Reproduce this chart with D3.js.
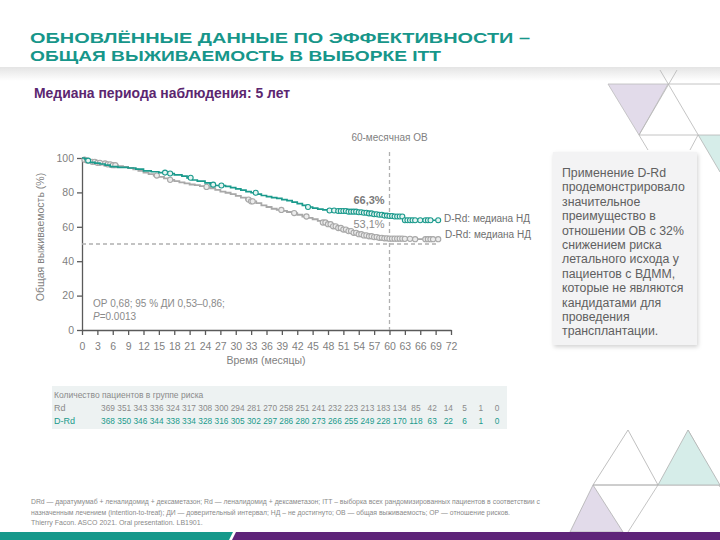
<!DOCTYPE html>
<html><head><meta charset="utf-8">
<script src="https://cdn.jsdelivr.net/npm/d3@7"></script>
<style>body{margin:0;background:#fff}svg{display:block}text{font-family:"Liberation Sans",Arial,sans-serif}</style>
</head><body><svg id="c" width="720" height="540"></svg>
<script>
// ---- data ----
const monthTicks = [0,3,6,9,12,15,18,21,24,27,30,33,36,39,42,45,48,51,54,57,60,63,66,69,72];
const yTicks = [0,20,40,60,80,100];
const drdTime = [0,0.5,1,1.5,2.5,3.5,4.5,5.5,7,9,10.5,12,13.5,15,16.5,18,19.5,20.5,21.5,22.5,24,25,26,28,29,30,31,32,33,34,35,36,37,38,39,40,41,42,43,44,45,46,47,48,50,52,54,55,56,57,58,59,60,61,62.8,69.5];
const drdSurv = [100,99.5,98.5,97.5,97,96.5,95.8,95,94.6,94.2,93.5,92.5,92,91.5,91,90.2,89.5,88.5,87.2,86.5,85.5,84.5,84,83.5,82.8,82,81.3,80.5,79.8,79,78.2,77.6,77,76.5,75.8,75.2,74.3,73.5,72.5,71.5,70.8,70.3,69.8,69.5,69.2,68.8,68.5,68.2,67.8,67.3,67,66.5,66.3,66,63.8,63.8];
const rdTime = [0,0.5,1,2,3,4,5,6,7,8,9,10,11,12,13,14,15,16,17,18,19,20,21,22,23,24,25,26,27,28,29,30,31,32,33,34,35,36,37,38,39,40,41,42,43,44,45,46,47,48,49,50,51,52,53,54,55,56,57,58,59,60,63,65,69.5];
const rdSurv = [100,99,98.5,97.8,97.2,96.8,96.3,95.8,95.3,94.8,94.2,93.4,92.5,91.5,90.6,89.8,89,88.2,87.3,86.5,85.8,85.2,84.6,84.2,83.7,83.2,82.4,81.5,80.5,79.8,79,78,77,75.8,74.8,73.8,72.5,71.5,70.5,69.8,69.3,68.6,68,67,66,65.2,64.4,63.5,62.5,61.5,60.3,59.3,58.4,57.5,56.5,55.7,55,54.5,54,53.6,53.3,53.1,53,52.8,52.8];
const drdCensor = [1.2,16.2,17.2,21.2,25.6,27.2,33.9,44.1,48.3,49.2,50,50.5,51,51.5,52,52.5,53,53.5,54,54.5,55,55.5,56,56.5,57,57.5,58,58.5,59,59.5,60,60.5,61,61.5,62,62.5,63,63.5,64,64.5,65,66,67,67.5,68,69.5];
const rdCensor = [0.5,1,2,2.5,3,3.5,4.5,5,5.5,6,6.5,14.6,17.2,24.3,32.5,33,33.3,38.9,41.4,43.8,47,47.5,48,48.5,49,49.5,50,50.5,51,51.5,52,52.5,53,53.5,54,54.5,55,55.5,56,56.5,57,57.5,58,58.5,59,59.5,60,60.5,61,61.5,62,62.5,63,64,65,67,67.5,68,68.5,69.5];
const riskMonths = monthTicks;
const riskRd = [369,351,343,336,324,317,308,300,294,281,270,258,251,241,232,223,213,183,134,85,42,14,5,1,0];
const riskDRd = [368,350,346,344,338,334,328,316,305,302,297,286,280,273,266,255,249,228,170,118,63,22,6,1,0];
const boxLines = ["Применение D-Rd","продемонстрировало","значительное","преимущество в","отношении ОВ с 32%","снижением риска","летального исхода у","пациентов с ВДММ,","которые не являются","кандидатами для","проведения","трансплантации."];
const footLines = ["DRd — даратумумаб + леналидомид + дексаметазон; Rd — леналидомид + дексаметазон; ITT – выборка всех рандомизированных пациентов в соответствии с","назначенным лечением (intention-to-treat); ДИ — доверительный интервал; НД – не достигнуто; ОВ — общая выживаемость; ОР — отношение рисков.","Thierry Facon. ASCO 2021. Oral presentation. LB1901."];

const teal = "#1a9a8c", grey = "#a8a8a8", purple = "#5b2670";
const narrow = "'Liberation Sans Narrow','Arial Narrow','Liberation Sans',sans-serif";
const svg = d3.select("#c");
const defs = svg.append("defs");
const g1 = defs.append("linearGradient").attr("id","sh").attr("x1",0).attr("x2",0).attr("y1",0).attr("y2",1);
g1.append("stop").attr("offset","0").attr("stop-color","#e4e4e4");
g1.append("stop").attr("offset","1").attr("stop-color","#ffffff");
const f = defs.append("filter").attr("id","ds").attr("x","-10%").attr("y","-10%").attr("width","130%").attr("height","130%");
f.append("feDropShadow").attr("dx",1).attr("dy",2).attr("stdDeviation",2).attr("flood-color","#000").attr("flood-opacity",0.18);

// header shadow
svg.append("rect").attr("x",0).attr("y",67).attr("width",720).attr("height",14).attr("fill","url(#sh)");

// decorations
const deco = svg.append("g");
deco.append("polygon").attr("points","608,84 668,84 639,135").attr("fill","#e2dbea").attr("stroke","#bbb").attr("stroke-width",0.8);
deco.append("polygon").attr("points","698,135 720,135 720,172").attr("fill","#d6ede9");
[[668,84,720,84],[660,70,720,172],[677,70,639,135],[639,135,648,150],[639,135,720,135],[698,135,690,150],
 [593,485,720,485],[658,485,628,532],[688,430,720,487]].forEach(l=>deco.append("line").attr("x1",l[0]).attr("y1",l[1]).attr("x2",l[2]).attr("y2",l[3]).attr("stroke","#b5b5b5").attr("stroke-width",0.8));
deco.append("polygon").attr("points","628,430 593,485 658,485").attr("fill","none").attr("stroke","#b0b0b0").attr("stroke-width",0.8);
deco.append("polygon").attr("points","688,430 658,485 720,485").attr("fill","#d6ede9").attr("stroke","#b0b0b0").attr("stroke-width",0.8);
deco.append("polygon").attr("points","593,485 570,532 623,532").attr("fill","#e2dbea").attr("stroke","#b0b0b0").attr("stroke-width",0.8);

// footer band
svg.append("polygon").attr("points","0,532 233,532 229,540 0,540").attr("fill","#16998b");
svg.append("polygon").attr("points","236,532 720,532 720,540 232,540").attr("fill","#5e2479");

// titles
svg.append("text").attr("x",30).attr("y",43).attr("font-size",15.5).attr("font-weight","bold").attr("fill","#17968a").attr("font-family",narrow)
  .attr("textLength",500).attr("lengthAdjust","spacingAndGlyphs").text("ОБНОВЛЁННЫЕ ДАННЫЕ ПО ЭФФЕКТИВНОСТИ –");
svg.append("text").attr("x",30).attr("y",60.5).attr("font-size",15.5).attr("font-weight","bold").attr("fill","#17968a").attr("font-family",narrow)
  .attr("textLength",411).attr("lengthAdjust","spacingAndGlyphs").text("ОБЩАЯ ВЫЖИВАЕМОСТЬ В ВЫБОРКЕ ITT");
svg.append("text").attr("x",34).attr("y",98).attr("font-size",14).attr("font-weight","bold").attr("fill",purple).attr("font-family",narrow)
  .attr("textLength",256).attr("lengthAdjust","spacingAndGlyphs").text("Медиана периода наблюдения: 5 лет");

// chart
const x = d3.scaleLinear().domain([0,72]).range([82,451]);
const y = d3.scaleLinear().domain([0,100]).range([330,158]);
const axisCol = "#5a5a5a", txtCol = "#7f7f7f";

const xa = svg.append("g").attr("transform","translate(0,330)").call(d3.axisBottom(x).tickValues(monthTicks).tickSize(5).tickSizeOuter(0));
const ya = svg.append("g").attr("transform","translate(82,0)").call(d3.axisLeft(y).tickValues(yTicks).tickSize(5).tickSizeOuter(0));
[xa,ya].forEach(a=>{a.selectAll("path,line").attr("stroke",axisCol).attr("stroke-width",1.3);
  a.selectAll("text").attr("fill",txtCol).attr("font-size",10.5).attr("font-family","Liberation Sans, Arial, sans-serif");});
xa.selectAll("text").attr("dy","1.1em");

svg.append("text").attr("transform","translate(44,237) rotate(-90)").attr("text-anchor","middle").attr("font-size",10.5).attr("fill",txtCol).text("Общая выживаемость (%)");
svg.append("text").attr("x",266).attr("y",364).attr("text-anchor","middle").attr("font-size",10.5).attr("fill",txtCol).text("Время (месяцы)");

// reference lines
svg.append("line").attr("x1",x(0)).attr("x2",x(69.5)).attr("y1",y(50)).attr("y2",y(50)).attr("stroke","#b0b0b0").attr("stroke-width",1.3).attr("stroke-dasharray","4,3");
svg.append("line").attr("x1",x(60)).attr("x2",x(60)).attr("y1",152).attr("y2",330).attr("stroke","#b0b0b0").attr("stroke-width",1.3).attr("stroke-dasharray","4,3");
svg.append("text").attr("x",x(60)).attr("y",141).attr("text-anchor","middle").attr("font-size",10).attr("fill",txtCol).text("60-месячная ОВ");

// curves
const line = d3.line().x(d=>x(d[0])).y(d=>y(d[1])).curve(d3.curveStepAfter);
const rdPts = rdTime.map((t,i)=>[t,rdSurv[i]]);
const drdPts = drdTime.map((t,i)=>[t,drdSurv[i]]);
function survAt(times, surv, t){let v=surv[0];for(let i=0;i<times.length;i++){if(times[i]<=t)v=surv[i];}return v;}
svg.append("path").attr("d",line(rdPts)).attr("fill","none").attr("stroke",grey).attr("stroke-width",1.8);
svg.append("g").selectAll("circle").data(rdCensor).join("circle").attr("cx",d=>x(d)).attr("cy",d=>y(survAt(rdTime,rdSurv,d)))
  .attr("r",2.6).attr("fill","#ececec").attr("stroke",grey).attr("stroke-width",1.1);
svg.append("path").attr("d",line(drdPts)).attr("fill","none").attr("stroke",teal).attr("stroke-width",1.7);
svg.append("g").selectAll("circle").data(drdCensor).join("circle").attr("cx",d=>x(d)).attr("cy",d=>y(survAt(drdTime,drdSurv,d)))
  .attr("r",2.5).attr("fill","#e6f4f2").attr("stroke",teal).attr("stroke-width",1.1);

// annotations
svg.append("text").attr("x",369).attr("y",204).attr("text-anchor","middle").attr("font-size",11).attr("font-weight","bold").attr("fill","#7a7a7a").text("66,3%");
svg.append("text").attr("x",369).attr("y",228).attr("text-anchor","middle").attr("font-size",11).attr("fill","#8a8a8a").text("53,1%");
svg.append("text").attr("x",444).attr("y",222).attr("font-size",10).attr("fill","#6f6f6f").text("D-Rd: медиана НД");
svg.append("text").attr("x",445).attr("y",238).attr("font-size",10).attr("fill","#6f6f6f").text("D-Rd: медиана НД");
svg.append("text").attr("x",93).attr("y",307).attr("font-size",10).attr("fill","#8a8a8a").text("ОР 0,68; 95 % ДИ 0,53–0,86;");
const pt = svg.append("text").attr("x",93).attr("y",320).attr("font-size",10).attr("fill","#8a8a8a");
pt.append("tspan").attr("font-style","italic").text("P");
pt.append("tspan").text("=0.0013");

// risk table
svg.append("rect").attr("x",52).attr("y",386).attr("width",455).attr("height",43).attr("fill","#edf2f2");
svg.append("text").attr("x",54).attr("y",398).attr("font-size",8.5).attr("fill","#8a8a8a").text("Количество пациентов в группе риска");
const rx = d3.scalePoint().domain(riskMonths).range([108,497]);
svg.append("text").attr("x",54).attr("y",411).attr("font-size",9).attr("fill","#8a8a8a").text("Rd");
svg.append("text").attr("x",54).attr("y",424).attr("font-size",9).attr("fill",teal).text("D-Rd");
svg.append("g").selectAll("text").data(riskRd).join("text").attr("x",(d,i)=>rx(riskMonths[i])).attr("y",411).attr("text-anchor","middle").attr("font-size",8.3).attr("fill","#8a8a8a").text(d=>d);
svg.append("g").selectAll("text").data(riskDRd).join("text").attr("x",(d,i)=>rx(riskMonths[i])).attr("y",424).attr("text-anchor","middle").attr("font-size",8.3).attr("fill",teal).text(d=>d);

// right text box
svg.append("rect").attr("x",553).attr("y",152).attr("width",144).attr("height",193).attr("fill","#f3f3f4").attr("filter","url(#ds)");
svg.append("g").selectAll("text").data(boxLines).join("text").attr("x",562).attr("y",(d,i)=>177+i*14.4).attr("font-size",12.3).attr("fill","#606060").text(d=>d);

// footnote
const footW = [509, 479, null];
svg.append("g").selectAll("text").data(footLines).join("text").attr("x",31).attr("y",(d,i)=>504+i*10.5).attr("font-size",7).attr("fill","#8a8a8a")
  .each(function(d,i){ if(footW[i]) d3.select(this).attr("textLength",footW[i]).attr("lengthAdjust","spacingAndGlyphs"); })
  .text(d=>d);
</script></body></html>
